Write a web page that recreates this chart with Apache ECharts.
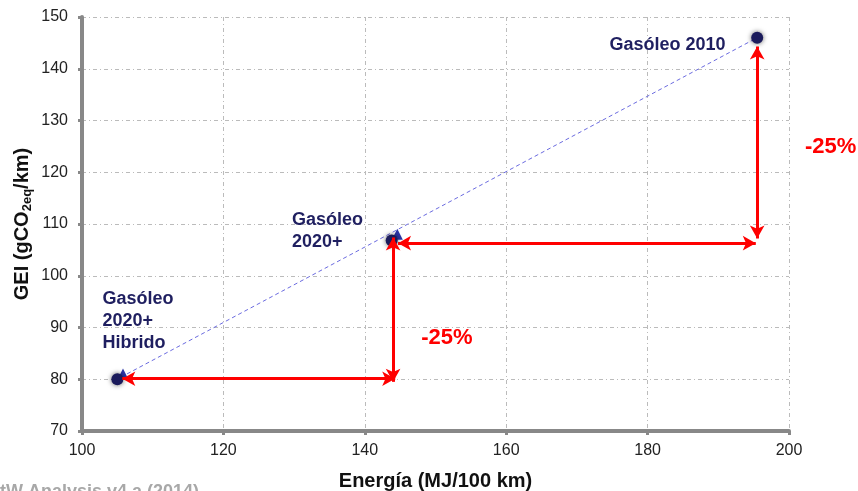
<!DOCTYPE html>
<html>
<head>
<meta charset="utf-8">
<script src="https://cdn.jsdelivr.net/npm/echarts@6/dist/echarts.min.js"></script>
<style>
  html, body { margin: 0; padding: 0; background: #fff; }
  #chart { width: 858px; height: 491px; }
</style>
</head>
<body>
<div id="chart"></div>
<script>
// puntos del gráfico (energía MJ/100 km, GEI gCO2eq/km)
const circlePoints = [[105, 80], [143.8, 106.8], [195.5, 146]]
const trianglePoints = [[105.8, 81], [144.6, 108]]
const trendLine = [[105.5, 80.4], [195.5, 146]]

// flechas rojas: [inicio, fin]
const arrows = [
  [[195.5, 144.3], [195.5, 107.2]],
  [[144.7, 106.3], [195.3, 106.3]],
  [[144, 107.4], [144, 79.5]],
  [[105.7, 80.1], [144.3, 80.1]]
]

// etiquetas (esquina izquierda del texto)
const pointLabels = [
  { name: 'Gasóleo 2010', value: [174.6, 144.6] },
  { name: 'Gasóleo\n2020+', value: [129.7, 108.6] },
  { name: 'Gasóleo\n2020+\nHibrido', value: [102.9, 91.3] }
]
const pctLabels = [
  { name: '-25%', value: [205.9, 124.9] },
  { name: '-25%', value: [151.6, 88] }
]

const xTicks = { min: 100, max: 200, interval: 20 }
const yTicks = { min: 70, max: 150, interval: 10 }

const chart = echarts.init(document.getElementById('chart'))

const option = {
  animation: false,
  backgroundColor: '#fff',
  textStyle: { fontFamily: 'Liberation Sans, Arial, sans-serif' },
  grid: { left: 82, right: 69, top: 17, bottom: 60, containLabel: false, outerBoundsMode: 'none' },
  xAxis: {
    type: 'value',
    min: xTicks.min,
    max: xTicks.max,
    interval: xTicks.interval,
    name: 'Energía (MJ/100 km)',
    nameLocation: 'middle',
    nameGap: 40,
    nameTextStyle: { fontSize: 20, fontWeight: 'bold', color: '#111' },
    axisLine: { lineStyle: { color: '#888', width: 4 } },
    axisTick: { length: 4, lineStyle: { color: '#888', width: 3 } },
    axisLabel: { fontSize: 16, color: '#222', margin: 12 },
    splitLine: { lineStyle: { color: '#bbb', type: [4, 3, 1, 3], width: 1 } }
  },
  yAxis: {
    type: 'value',
    min: yTicks.min,
    max: yTicks.max,
    interval: yTicks.interval,
    name: '{a|GEI (gCO}{s|2eq}{a|/km)}',
    nameLocation: 'middle',
    nameGap: 48,
    nameMoveOverlap: false,
    nameTextStyle: {
      rich: {
        a: { fontSize: 20, fontWeight: 'bold', color: '#111' },
        s: { fontSize: 13, fontWeight: 'bold', color: '#111', verticalAlign: 'bottom', padding: [10, 0, 0, 0] }
      }
    },
    axisLine: { lineStyle: { color: '#888', width: 4 } },
    axisTick: { length: 4, lineStyle: { color: '#888', width: 3 } },
    axisLabel: { fontSize: 16, color: '#222', margin: 14 },
    splitLine: { lineStyle: { color: '#bbb', type: [4, 3, 1, 3], width: 1 } }
  },
  series: [
    {
      type: 'line',
      data: trendLine,
      symbol: 'none',
      lineStyle: { color: '#6b6be0', width: 1, type: [4, 3] },
      z: 2,
      markLine: {
        silent: true,
        symbol: ['arrow', 'arrow'],
        symbolSize: [11, 13],
        label: { show: false },
        lineStyle: { color: '#ff0000', width: 3, type: 'solid' },
        data: arrows.map(a => [{ coord: a[0] }, { coord: a[1] }])
      }
    },
    {
      type: 'scatter',
      data: trianglePoints,
      symbol: 'triangle',
      symbolSize: 11,
      itemStyle: { color: '#2b35a8', opacity: 1 },
      z: 3
    },
    {
      type: 'scatter',
      data: circlePoints,
      symbol: 'circle',
      symbolSize: 12,
      itemStyle: { color: '#1b1b5c', opacity: 1, shadowBlur: 5, shadowColor: 'rgba(0,0,0,0.6)' },
      z: 4
    },
    {
      type: 'scatter',
      data: pointLabels,
      symbolSize: 0,
      clip: false,
      itemStyle: { opacity: 1 },
      label: {
        show: true,
        position: 'inside',
        formatter: p => p.name,
        fontSize: 18,
        fontWeight: 'bold',
        color: '#1f1f60',
        lineHeight: 22,
        align: 'left'
      },
      z: 5
    },
    {
      type: 'scatter',
      data: pctLabels,
      symbolSize: 0,
      clip: false,
      itemStyle: { opacity: 1 },
      label: {
        show: true,
        position: 'inside',
        formatter: p => p.name,
        fontSize: 22,
        fontWeight: 'bold',
        color: '#ff0000'
      },
      z: 5
    }
  ],
  graphic: [
    {
      type: 'text',
      left: -17,
      top: 483,
      style: { text: 'WtW Analysis v4.a (2014)', fontSize: 18, fontWeight: 'bold', fill: '#a8a8a8', fontFamily: 'Liberation Sans, Arial, sans-serif' }
    }
  ]
}

chart.setOption(option)
</script>
</body>
</html>
